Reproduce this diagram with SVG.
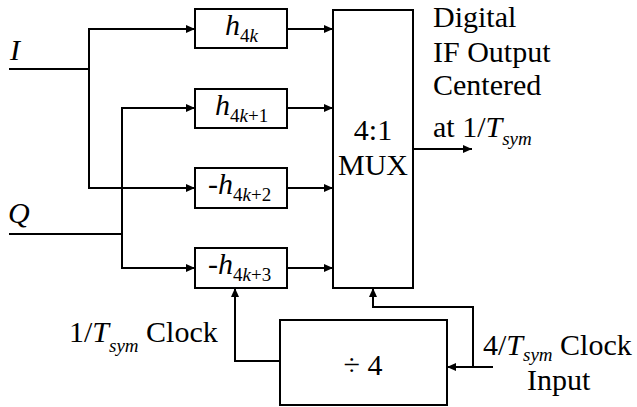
<svg xmlns="http://www.w3.org/2000/svg" width="637" height="407" viewBox="0 0 637 407" font-family="'Liberation Serif', 'Times New Roman', serif">
<style>
text{font-family:'Liberation Serif','Times New Roman',serif;font-size:30px;fill:#000}
.it{font-style:italic}
.sub{font-size:19px}
.box{fill:#fff;stroke:#000;stroke-width:2}
.ln{fill:none;stroke:#000;stroke-width:2}
</style>
<defs>
<marker id="ah" markerUnits="userSpaceOnUse" markerWidth="9" markerHeight="8" viewBox="0 0 9 8" refX="9" refY="4" orient="auto">
<path d="M0,0 L9,4 L0,8 z" fill="#000"/>
</marker>
</defs>
<rect width="637" height="407" fill="#fff"/>
<g id="connectors">
<path class="ln" d="M9,69 H89"/>
<path class="ln" d="M89,69 V29 H195" marker-end="url(#ah)"/>
<path class="ln" d="M89,69 V188 H195" marker-end="url(#ah)"/>
<path class="ln" d="M9,234 H122"/>
<path class="ln" d="M122,234 V108 H195" marker-end="url(#ah)"/>
<path class="ln" d="M122,234 V268 H195" marker-end="url(#ah)"/>
<path class="ln" d="M287,29 H333" marker-end="url(#ah)"/>
<path class="ln" d="M287,108 H333" marker-end="url(#ah)"/>
<path class="ln" d="M287,188 H333" marker-end="url(#ah)"/>
<path class="ln" d="M287,268 H333" marker-end="url(#ah)"/>
<path class="ln" d="M413,149 H472" marker-end="url(#ah)"/>
<path class="ln" d="M493,367 H447" marker-end="url(#ah)"/>
<path class="ln" d="M473,367 V307 H373 V288" marker-end="url(#ah)"/>
<path class="ln" d="M280,361 H235 V288" marker-end="url(#ah)"/>
</g>
<g id="h0">
<rect class="box" x="195" y="9" width="92" height="39"/>
<text x="225" y="35"><tspan class="it">h</tspan><tspan class="sub" dy="7">4<tspan class="it">k</tspan></tspan></text>
</g>
<g id="h1">
<rect class="box" x="195" y="89" width="92" height="39"/>
<text x="215" y="115"><tspan class="it">h</tspan><tspan class="sub" dy="7">4<tspan class="it">k</tspan>+1</tspan></text>
</g>
<g id="h2">
<rect class="box" x="195" y="168" width="92" height="40"/>
<text x="208" y="194">-<tspan class="it">h</tspan><tspan class="sub" dy="7">4<tspan class="it">k</tspan>+2</tspan></text>
</g>
<g id="h3">
<rect class="box" x="195" y="248" width="92" height="40"/>
<text x="208" y="274">-<tspan class="it">h</tspan><tspan class="sub" dy="7">4<tspan class="it">k</tspan>+3</tspan></text>
</g>
<g id="mux">
<rect class="box" x="333" y="10" width="80" height="278"/>
<text x="373" y="140" text-anchor="middle">4:1</text>
<text x="373" y="175" text-anchor="middle">MUX</text>
</g>
<g id="div4">
<rect class="box" x="280" y="320" width="167" height="85"/>
<text x="363" y="375" text-anchor="middle">÷ 4</text>
</g>
<g id="labels">
<text x="10" y="60" class="it">I</text>
<text x="8" y="223" class="it">Q</text>
<text x="433" y="27">Digital</text>
<text x="433" y="62">IF Output</text>
<text x="433" y="95">Centered</text>
<text x="433" y="137">at 1/<tspan class="it">T</tspan><tspan class="sub it" dy="8">sym</tspan></text>
<text x="69" y="342">1/<tspan class="it">T</tspan><tspan class="sub it" dy="10">sym</tspan><tspan dy="-10"> Clock</tspan></text>
<text x="483" y="355">4/<tspan class="it">T</tspan><tspan class="sub it" dy="6">sym</tspan><tspan dy="-6"> Clock</tspan></text>
<text x="527" y="390">Input</text>
</g>
</svg>
